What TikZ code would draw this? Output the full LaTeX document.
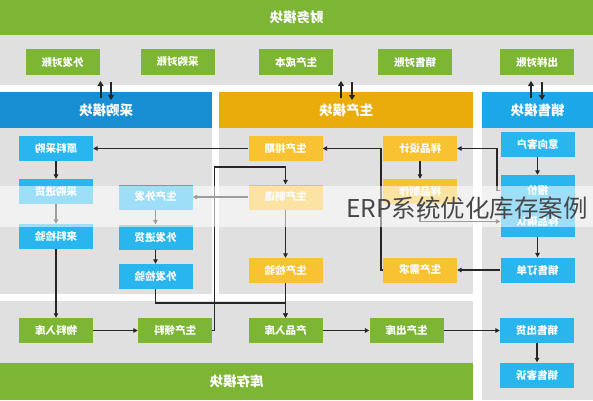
\documentclass[tikz,border=0pt]{standalone}
\usepackage{fontspec}
\usepackage{graphicx}
\newfontfamily\cjk{Noto Sans CJK SC}
\usetikzlibrary{arrows.meta}
\definecolor{gGreen}{RGB}{124,182,52}
\definecolor{bHead}{RGB}{24,143,210}
\definecolor{sHead}{RGB}{28,168,232}
\definecolor{bBox}{RGB}{41,182,238}
\definecolor{oHead}{RGB}{234,172,10}
\definecolor{oBox}{RGB}{248,194,51}
\definecolor{pGray}{RGB}{224,224,224}
\newcommand\mtxt[1]{\reflectbox{#1}}
\tikzset{
  box/.style={minimum width=74pt, minimum height=25pt, inner sep=0pt, text=white,
    font=\cjk\bfseries\fontsize{10.5}{12}\selectfont},
  gbox/.style={box, fill=gGreen},
  bbox/.style={box, fill=bBox},
  obox/.style={box, fill=oBox},
  hdr/.style={anchor=north west, inner sep=0pt, text=white,
    font=\cjk\bfseries\fontsize{13.5}{15}\selectfont},
  arr/.style={draw=black!85, line width=1.3pt, -{Triangle[length=4.5pt,width=4.5pt]}},
  dbl/.style={draw=black!85, line width=2pt, -{Triangle[length=5pt,width=6pt]}}
}
\begin{document}
\begin{tikzpicture}[x=1pt,y=-1pt]
\useasboundingbox (0,0) rectangle (593,400);
% panels
\fill[pGray] (0,35) rectangle (593,85);
\fill[pGray] (0,128) rectangle (212,294);
\fill[pGray] (219,128) rectangle (473,294);
\fill[pGray] (482,128) rectangle (593,400);
\fill[pGray] (0,301) rectangle (473,363);
% headers
\node[hdr, fill=gGreen, minimum width=593pt, minimum height=35pt] (hf) at (0,0) {\mtxt{财务模块}};
\node[hdr, fill=bHead, minimum width=212pt, minimum height=36pt] (hp) at (0,92) {\mtxt{采购模块}};
\node[hdr, fill=oHead, minimum width=254pt, minimum height=36pt] (hm) at (219,92) {\mtxt{生产模块}};
\node[hdr, fill=sHead, minimum width=111pt, minimum height=36pt] (hs) at (482,92) {\mtxt{销售模块}};
\node[hdr, fill=gGreen, minimum width=473pt, minimum height=37pt] (hi) at (0,363) {\mtxt{库存模块}};
% finance boxes
\node[gbox, minimum height=26pt] (f1) at (62.5,62) {\mtxt{外发对账}};
\node[gbox, minimum height=26pt] (f2) at (177.5,62) {\mtxt{采购对账}};
\node[gbox, minimum height=26pt] (f3) at (296,62) {\mtxt{生产成本}};
\node[gbox, minimum height=26pt] (f4) at (415,62) {\mtxt{销售对账}};
\node[gbox, minimum height=26pt] (f5) at (537,62) {\mtxt{出样对账}};
% purchase
\node[bbox] (p1) at (56,148.5) {\mtxt{原料采购}};
\node[bbox] (p2) at (56,191.5) {\mtxt{采购进货}};
\node[bbox] (p3) at (56,236.5) {\mtxt{来料检验}};
\node[bbox] (p4) at (155.5,197) {\mtxt{生产外发}};
\node[bbox] (p5) at (155.5,237) {\mtxt{外发进货}};
\node[bbox] (p6) at (155.5,276.5) {\mtxt{外发检验}};
% production
\node[obox] (m1) at (285.5,148.5) {\mtxt{生产排期}};
\node[obox] (m2) at (420,148.5) {\mtxt{样品设计}};
\node[obox] (m3) at (420,191.5) {\mtxt{样品制作}};
\node[obox] (m4) at (285.5,197) {\mtxt{生产制造}};
\node[obox] (m5) at (285.5,270.5) {\mtxt{生产检验}};
\node[obox] (m6) at (420,270) {\mtxt{生产需求}};
% sales
\node[bbox] (s1) at (537.5,144.5) {\mtxt{意向客户}};
\node[bbox, minimum height=31pt] (s2) at (537.5,190.5) {\mtxt{报价}};
\node[bbox, minimum height=31pt] (s3) at (537.5,221.5) {\mtxt{样品确认}};
\node[bbox] (s4) at (537.5,270) {\mtxt{销售订单}};
\node[bbox] (s5) at (537,330.5) {\mtxt{销售出货}};
\node[bbox] (s6) at (537,375) {\mtxt{销售客诉}};
% inventory
\node[gbox] (i1) at (56,330.5) {\mtxt{物料入库}};
\node[gbox] (i2) at (175,330.5) {\mtxt{生产领料}};
\node[gbox] (i3) at (285.5,330.5) {\mtxt{产品入库}};
\node[gbox] (i4) at (406.5,330.5) {\mtxt{生产出库}};
% connectors
\coordinate (j1) at (155.5,303);
\coordinate (k1) at (214.5,167);
\coordinate (k2) at (381,148.5);
\coordinate (k3) at (497,148.5);
\draw[arr] (p1) -- (p2);
\draw[arr] (p2) -- (p3);
\draw[arr] (p3) -- (i1);
\draw[arr] (p4) -- (p5);
\draw[arr] (p5) -- (p6);
\draw[arr] (p6.south) -- (j1) -| (i3.north);
\draw[arr] (m5) -- (i3);
\draw[arr] (m4) -- (m5);
\draw[arr] (m4.west) -- (p4.east);
\draw[arr] (m1.west) -- (p1.east);
\draw[arr] (i2.east) -| (k1) -| (m4.north);
\draw[arr] (m6.west) -| (k2) -- (m1.east);
\draw[arr] (m2) -- (m3);
\draw[arr] (m3.south) |- (s3.west);
\draw[arr] (s2.west) -| (k3) -- (m2.east);
\draw[arr] (s1) -- (s2);
\draw[arr] (s3) -- (s4);
\draw[arr] (s4.west) -- (m6.east);
\draw[arr] (i1) -- (i2);
\draw[arr] (i3) -- (i4);
\draw[arr] (i4) -- (s5);
\draw[arr] (s5) -- (s6);
% double arrows between modules and finance
\foreach \xa/\xb/\n in {100.5/111/a, 341/352/b, 531/542/c}{
  \coordinate (u\n1) at (\xa,98);
  \coordinate (u\n2) at (\xa,81);
  \coordinate (d\n1) at (\xb,82);
  \coordinate (d\n2) at (\xb,100);
  \draw[dbl] (u\n1) -- (u\n2);
  \draw[dbl] (d\n1) -- (d\n2);
}
% watermark
\fill[white, opacity=0.55] (0,186) rectangle (593,227);
\node[anchor=base west, inner sep=0pt, text=black!72,
  font=\cjk\fontsize{24.5}{28}\selectfont] (wm) at (346,217) {ERP系统优化库存案例};
\end{tikzpicture}
\end{document}
